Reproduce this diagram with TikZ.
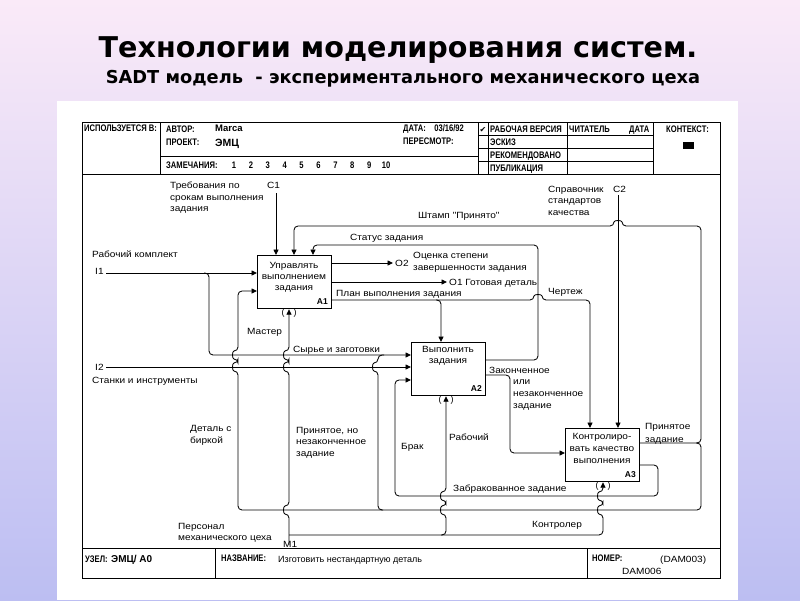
\documentclass[tikz,border=0pt]{standalone}
\usepackage{fontspec}
\setmainfont{Liberation Sans}
\newfontfamily\dv{DejaVu Sans}
\newfontfamily\formf[FakeStretch=0.8]{Liberation Sans}
\newfontfamily\labf[FakeStretch=1.12]{Liberation Sans}
\usetikzlibrary{arrows.meta,calc}
\definecolor{bgtop}{RGB}{250,234,248}
\definecolor{bgbot}{RGB}{188,190,242}
\def\bumpU#1#2{-- (#1,#2+4) .. controls (#1-6,#2+4) and (#1-6,#2-4) .. (#1,#2-4)}
\def\humpR#1#2{-- (#1-4,#2) .. controls (#1-4,#2-6) and (#1+4,#2-6) .. (#1+4,#2)}
\def\humpL#1#2{-- (#1+4,#2) .. controls (#1+4,#2-6) and (#1-4,#2-6) .. (#1-4,#2)}
\begin{document}
\begin{tikzpicture}[x=1pt,y=-1pt,
  ln/.style={line width=0.85pt, rounded corners=4pt},
  ar/.style={ln, -{Triangle[length=5.5pt,width=5pt]}},
  box/.style={draw, line width=1.2pt, minimum width=74pt, inner sep=0pt, anchor=north west},
  form/.style={line width=0.8pt},
  lab/.style={anchor=base west, inner sep=0pt, font=\labf\fontsize{9}{10}\selectfont},
  boxt/.style={anchor=base, inner sep=0pt, font=\labf\fontsize{9}{10}\selectfont},
  boxn/.style={anchor=base east, inner sep=0pt, font=\bfseries\fontsize{8.5}{10}\selectfont},
  hd/.style={anchor=base west, inner sep=0pt, font=\formf\bfseries\fontsize{9.5}{10}\selectfont},
  par/.style={inner sep=0pt, font=\fontsize{9}{9}\selectfont},
]
\useasboundingbox (0,0) rectangle (800,600);
\shade[top color=bgtop, bottom color=bgbot] (0,0) rectangle (800,600);
\fill[white] (57,101) rectangle (738,600);

% titles
\node[anchor=base, font=\dv\bfseries\fontsize{28.6}{32}\selectfont] (title) at (398,57) {Технологии моделирования систем.};
\node[anchor=base, font=\dv\bfseries\fontsize{17.8}{20}\selectfont] (subtitle) at (403,83.5) {SADT модель\ \ - экспериментального механического цеха};

% form frame
\draw[form] (82,122) rectangle (720,578);
\draw[form] (82,174) -- (720,174);
\draw[form] (82,548) -- (720,548);
\draw[form] (160,122) -- (160,174);
\draw[form] (160,156) -- (478,156);
\draw[form] (478,122) -- (478,174);
\draw[form] (488,122) -- (488,174);
\draw[form] (567,122) -- (567,174);
\draw[form] (653,122) -- (653,174);
\draw[form] (478,135) -- (653,135);
\draw[form] (478,148) -- (653,148);
\draw[form] (478,161) -- (653,161);
\draw[form] (215,548) -- (215,578);
\draw[form] (587,548) -- (587,578);
\fill (683,142) rectangle (694,149);

% header texts
\node[hd] (h1) at (84,131) {ИСПОЛЬЗУЕТСЯ В:};
\node[hd] (h2) at (166,132) {АВТОР:};
\node[hd, font=\bfseries\fontsize{9.5}{10}\selectfont] (h3) at (215,131) {Marca};
\node[hd] (h4) at (166,145) {ПРОЕКТ:};
\node[hd, font=\bfseries\fontsize{10.5}{11}\selectfont] (h5) at (215,146) {ЭМЦ};
\node[hd] (h6) at (166,168) {ЗАМЕЧАНИЯ:};
\foreach \n [count=\k from 0] in {1,2,3,4,5,6,7,8,9,10}
  \node[hd, anchor=base] (num\n) at (234+16.9*\k,168) {\n};
\node[hd] (h7) at (403,131) {ДАТА:\ \ \ \ 03/16/92};
\node[hd] (h8) at (403,144) {ПЕРЕСМОТР:};
\node[anchor=base, inner sep=0pt, font=\dv\fontsize{8}{9}\selectfont] (chk) at (483,132) {✔};
\node[hd] (h9) at (490,132) {РАБОЧАЯ ВЕРСИЯ};
\node[hd] (h10) at (490,145) {ЭСКИЗ};
\node[hd] (h11) at (490,158) {РЕКОМЕНДОВАНО};
\node[hd] (h12) at (490,171) {ПУБЛИКАЦИЯ};
\node[hd] (h13) at (569,132) {ЧИТАТЕЛЬ};
\node[hd] (h14) at (629,132) {ДАТА};
\node[hd] (h15) at (666,132) {КОНТЕКСТ:};

% footer texts
\node[hd] (f1) at (85,562) {УЗЕЛ:};
\node[hd, font=\bfseries\fontsize{10}{11}\selectfont] (f2) at (111,562) {ЭМЦ/ А0};
\node[hd] (f3) at (221,561) {НАЗВАНИЕ:};
\node[lab, font=\fontsize{9}{10}\selectfont] (f4) at (278,562) {Изготовить нестандартную деталь};
\node[hd] (f5) at (592,561) {НОМЕР:};
\node[lab] (f6) at (660,562) {(DAM003)};
\node[lab] (f7) at (622,574) {DAM006};

% boxes
\node[box, minimum height=53pt] (A1) at (257,255) {};
\node[box, minimum height=53pt] (A2) at (411,342) {};
\node[box, minimum height=53pt] (A3) at (565,428) {};
\node[boxt] (t11) at (294,268) {Управлять};
\node[boxt] (t12) at (294,279) {выполнением};
\node[boxt] (t13) at (294,290) {задания};
\node[boxn] (n1) at (328,304) {A1};
\node[boxt] (t21) at (448,352) {Выполнить};
\node[boxt] (t22) at (448,363) {задания};
\node[boxn] (n2) at (482,391) {A2};
\node[boxt] (t31) at (602,439) {Контролиро-};
\node[boxt] (t32) at (602,451) {вать качество};
\node[boxt] (t33) at (602,463) {выполнения};
\node[boxn] (n3) at (636,477) {A3};

% free ends
\coordinate (c1) at (276,193);
\coordinate (c2) at (618,195);
\coordinate (i1) at (106,273);
\coordinate (i2) at (106,367);
\coordinate (m1) at (289,545);
\coordinate (o1) at (447,282);
\coordinate (o2) at (393,263);

% connectors
\draw[ar] (c1) -- (c1 |- A1.north);
\draw[ar] (c2) -- (c2 |- A3.north);
\draw[ar] ($(A3.north east)+(0,15)$) -- (701,443) -- (701,226) \humpL{618}{226} -- (294,226) -- ($(A1.north west)+(37,0)$);
\draw[ar] ($(A2.north east)+(0,18)$) -- (538,360) -- (538,245) -- (313,245) -- ($(A1.north west)+(56,0)$);
\draw[ar] ($(A1.north east)+(0,8)$) -- (o2);
\draw[ar] ($(A1.north east)+(0,27)$) -- (o1);
\draw[ar] ($(A1.north east)+(0,45)$) \humpR{538}{300} -- (590,300) -- ($(A3.north west)+(25,0)$);
\draw[ar] (436,300) -- (441,300) -- ($(A2.north west)+(30,0)$);
\draw[ar] (i1) -- (i1 -| A1.west);
\draw[ar] (204,273) -- (209,273) -- (209,355) -- ($(A2.north west)+(0,13)$);
\draw[ar] (i2) -- (i2 -| A2.west);
\draw[ar] ($(A3.north east)+(0,37)$) -- (658,465) -- (658,496) -- (395,496) -- (395,380) -- ($(A2.north west)+(0,38)$);
\draw[ar] ($(A2.north east)+(0,33)$) -- (510,375) -- (510,453) -- ($(A3.north west)+(0,25)$);
\draw[ar] (696,443) -- (701,443) -- (701,510) -- (238,510) \bumpU{238}{367} \bumpU{238}{355} -- (238,291) -- ($(A1.north west)+(0,36)$);
\draw[ln] (383,510) -- (378,510) \bumpU{378}{367} -- (378,355) -- (384,355);
\draw[ar] (m1) \bumpU{289}{510} \bumpU{289}{367} \bumpU{289}{355} -- ($(A1.south west)+(32,0)$);
\draw[ar] (289,535) -- (603,535) \bumpU{603}{510} \bumpU{603}{496} -- ($(A3.south west)+(38,0)$);
\draw[ar] (441,535) -- (446,535) \bumpU{446}{510} \bumpU{446}{496} -- ($(A2.south west)+(35,0)$);

% tunnel parentheses
\node[par] (pa1) at (283,313) {(};
\node[par] (pb1) at (295,313) {)};
\node[par] (pa2) at (440,400) {(};
\node[par] (pb2) at (452,400) {)};
\node[par] (pa3) at (597,486) {(};
\node[par] (pb3) at (609,486) {)};

% labels
\node[lab] (l1) at (170,188) {Требования по};
\node[lab] (l2) at (170,200) {срокам выполнения};
\node[lab] (l3) at (170,211) {задания};
\node[lab] (l4) at (267,188) {C1};
\node[lab] (l5) at (548,192) {Справочник};
\node[lab] (l6) at (548,203) {стандартов};
\node[lab] (l7) at (548,215) {качества};
\node[lab] (l8) at (613,192) {C2};
\node[lab] (l9) at (418,218) {Штамп "Принято"};
\node[lab] (l10) at (350,240) {Статус задания};
\node[lab] (l11) at (395,266) {O2};
\node[lab] (l12) at (413,258) {Оценка степени};
\node[lab] (l13) at (413,270) {завершенности задания};
\node[lab] (l14) at (449,285) {O1 Готовая деталь};
\node[lab] (l15) at (336,296) {План выполнения задания};
\node[lab] (l16) at (548,294) {Чертеж};
\node[lab] (l17) at (92,257) {Рабочий комплект};
\node[lab] (l18) at (95,274) {I1};
\node[lab] (l19) at (247,334) {Мастер};
\node[lab] (l20) at (293,352) {Сырье и заготовки};
\node[lab] (l21) at (95,370) {I2};
\node[lab] (l22) at (92,383) {Станки и инструменты};
\node[lab] (l23) at (489,373) {Законченное};
\node[lab] (l24) at (513,384) {или};
\node[lab] (l25) at (513,396) {незаконченное};
\node[lab] (l26) at (513,408) {задание};
\node[lab] (l27) at (190,431) {Деталь с};
\node[lab] (l28) at (190,443) {биркой};
\node[lab] (l29) at (296,433) {Принятое, но};
\node[lab] (l30) at (296,444) {незаконченное};
\node[lab] (l31) at (296,456) {задание};
\node[lab] (l32) at (401,449) {Брак};
\node[lab] (l33) at (449,440) {Рабочий};
\node[lab] (l34) at (645,429) {Принятое};
\node[lab] (l35) at (645,442) {задание};
\node[lab] (l36) at (453,491) {Забракованное задание};
\node[lab] (l37) at (532,527) {Контролер};
\node[lab] (l38) at (178,529) {Персонал};
\node[lab] (l39) at (178,540) {механического цеха};
\node[lab] (l40) at (283,547) {M1};
\end{tikzpicture}
\end{document}
